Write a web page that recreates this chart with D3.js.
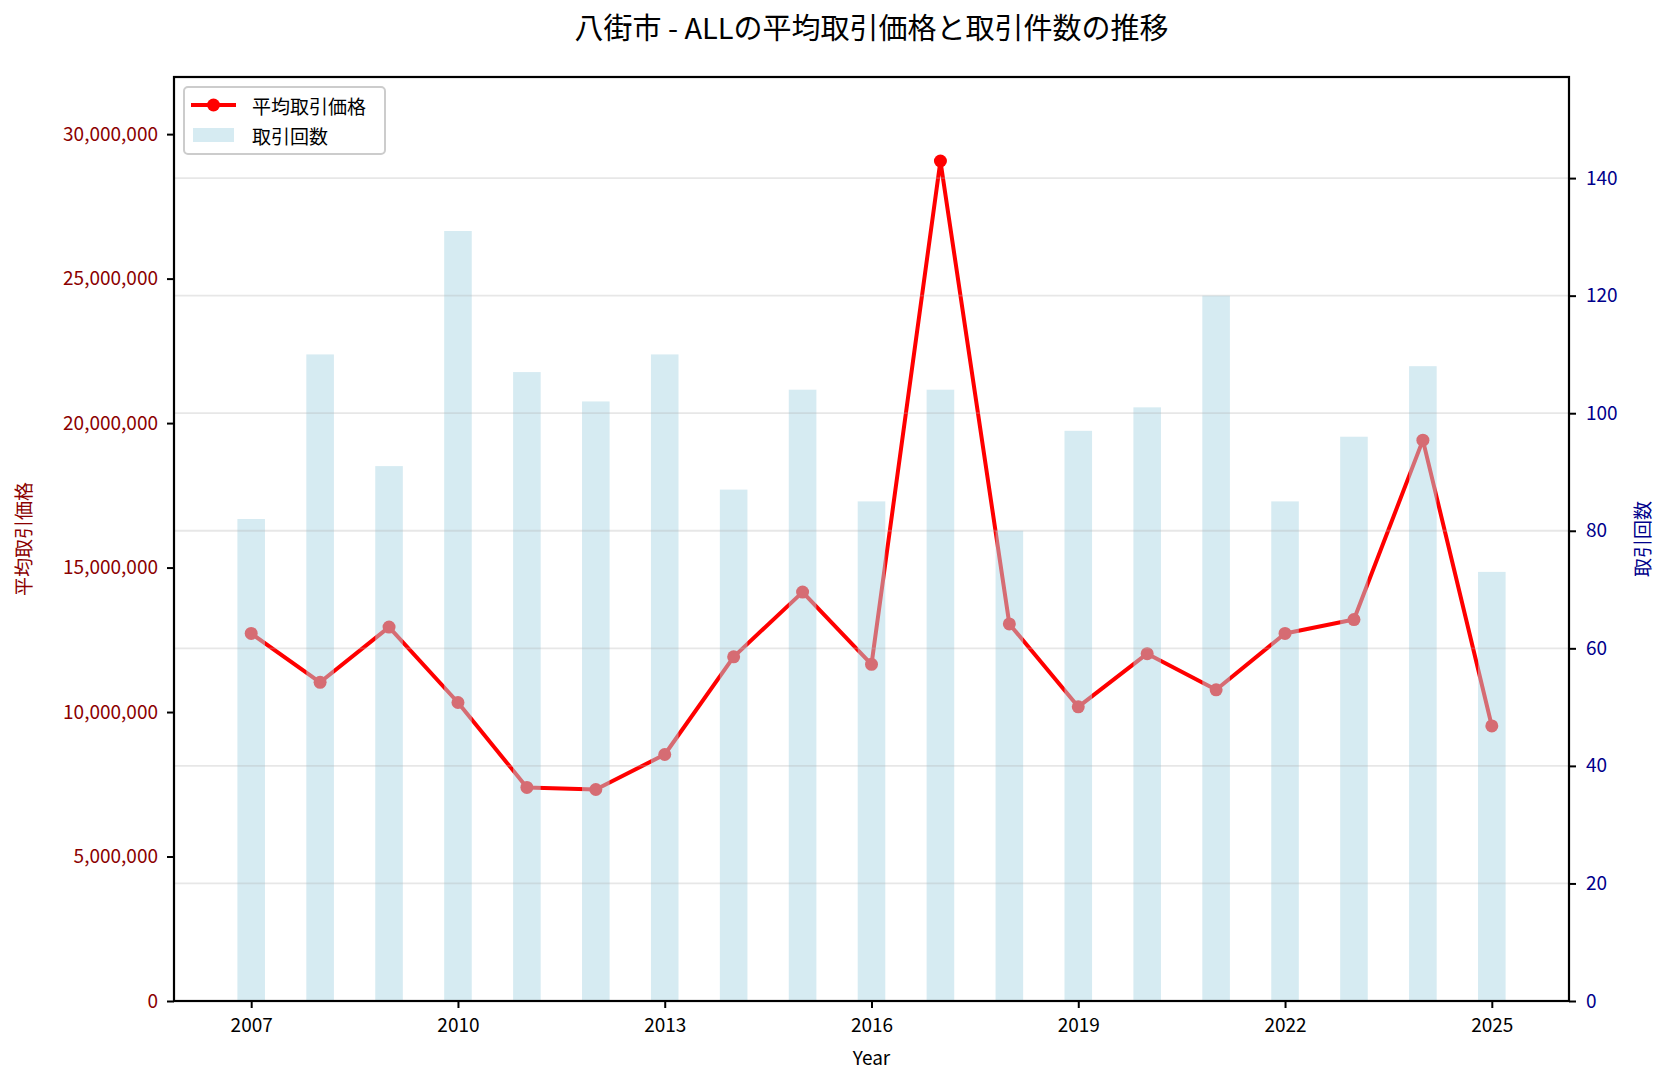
<!DOCTYPE html>
<html>
<head>
<meta charset="utf-8">
<script src="https://cdn.jsdelivr.net/npm/d3@7"></script>
<style>
  html, body { margin: 0; padding: 0; background: #fff; }
  svg { display: block; font-family: "Noto Sans CJK JP", "Noto Sans", sans-serif; }
</style>
</head>
<body>
<svg id="chart" width="1666" height="1079"></svg>
<script>
// ---- data ----
const years = [2007, 2008, 2009, 2010, 2011, 2012, 2013, 2014, 2015, 2016, 2017, 2018, 2019, 2020, 2021, 2022, 2023, 2024, 2025];
const avgPrice = [12720000, 11030000, 12940000, 10330000, 7390000, 7320000, 8530000, 11910000, 14150000, 11650000, 29070000, 13050000, 10180000, 12020000, 10770000, 12720000, 13200000, 19410000, 9520000];
const tradeCount = [82, 110, 91, 131, 107, 102, 110, 87, 104, 85, 104, 80, 97, 101, 120, 85, 96, 108, 73];
const xTickValues = [2007, 2010, 2013, 2016, 2019, 2022, 2025];
const leftTickValues = [0, 5000000, 10000000, 15000000, 20000000, 25000000, 30000000];
const rightTickValues = [0, 20, 40, 60, 80, 100, 120, 140];
const titleText = "八街市 - ALLの平均取引価格と取引件数の推移";
const leftLabel = "平均取引価格";
const rightLabel = "取引回数";
const xLabel = "Year";

// ---- layout ----
const L = 174, R = 1569, T = 77, B = 1001;
const svg = d3.select("#chart");

const barW = 0.4;
const xMin = d3.min(years) - barW / 2, xMax = d3.max(years) + barW / 2;
const xPad = (xMax - xMin) * 0.05;
const x = d3.scaleLinear().domain([xMin - xPad, xMax + xPad]).range([L, R]);
const yL = d3.scaleLinear().domain([0, d3.max(avgPrice) * 1.1]).range([B, T]);
const yR = d3.scaleLinear().domain([0, d3.max(tradeCount) * 1.2]).range([B, T]);

const fmt = d3.format(",");

// line (left axis)
const line = d3.line().x((d, i) => x(years[i])).y(d => yL(d));
svg.append("path").datum(avgPrice)
  .attr("d", line).attr("fill", "none")
  .attr("stroke", "#ff0000").attr("stroke-width", 4).attr("stroke-linejoin", "round");
svg.append("g").selectAll("circle").data(avgPrice).join("circle")
  .attr("cx", (d, i) => x(years[i])).attr("cy", d => yL(d)).attr("r", 6.5)
  .attr("fill", "#ff0000");

// bars (right axis, drawn above)
const bw = x(barW) - x(0);
svg.append("g").selectAll("rect").data(tradeCount).join("rect")
  .attr("x", (d, i) => x(years[i]) - bw / 2)
  .attr("y", d => yR(d))
  .attr("width", bw)
  .attr("height", d => B - yR(d))
  .attr("fill", "#add8e6").attr("fill-opacity", 0.5);

// grid (right axis ticks)
svg.append("g").selectAll("line").data(rightTickValues.filter(v => v > 0)).join("line")
  .attr("x1", L).attr("x2", R)
  .attr("y1", d => yR(d)).attr("y2", d => yR(d))
  .attr("stroke", "#b0b0b0").attr("stroke-opacity", 0.3).attr("stroke-width", 1.8);

// axes
const tickSize = 7, fs = 19;
const axX = d3.axisBottom(x).tickValues(xTickValues).tickFormat(d3.format("d")).tickSize(tickSize).tickPadding(11);
const gx = svg.append("g").attr("transform", `translate(0,${B})`).call(axX);
gx.select(".domain").remove();
gx.selectAll("line").attr("stroke", "#000").attr("stroke-width", 2);
gx.selectAll("text").attr("fill", "#000").attr("font-size", fs).attr("font-family", "Noto Sans CJK JP");

const axL = d3.axisLeft(yL).tickValues(leftTickValues).tickFormat(fmt).tickSize(tickSize).tickPadding(9);
const gl = svg.append("g").attr("transform", `translate(${L},0)`).call(axL);
gl.select(".domain").remove();
gl.selectAll("line").attr("stroke", "#000").attr("stroke-width", 2);
gl.selectAll("text").attr("fill", "#8b0000").attr("font-size", fs).attr("font-family", "Noto Sans CJK JP");

const axR = d3.axisRight(yR).tickValues(rightTickValues).tickSize(tickSize).tickPadding(10);
const gr = svg.append("g").attr("transform", `translate(${R},0)`).call(axR);
gr.select(".domain").remove();
gr.selectAll("line").attr("stroke", "#000").attr("stroke-width", 2);
gr.selectAll("text").attr("fill", "#00008b").attr("font-size", fs).attr("font-family", "Noto Sans CJK JP");

// frame
svg.append("rect").attr("x", L).attr("y", T).attr("width", R - L).attr("height", B - T)
  .attr("fill", "none").attr("stroke", "#000").attr("stroke-width", 2.2);

// labels
svg.append("text").attr("x", (L + R) / 2).attr("y", 26).attr("text-anchor", "middle")
  .attr("dominant-baseline", "central").attr("font-size", 29).attr("fill", "#000").text(titleText);
svg.append("text").attr("x", (L + R) / 2).attr("y", 1056).attr("text-anchor", "middle")
  .attr("dominant-baseline", "central").attr("font-size", fs).attr("fill", "#000").text(xLabel);
svg.append("text").attr("transform", `translate(22,${(T + B) / 2}) rotate(-90)`).attr("text-anchor", "middle")
  .attr("dominant-baseline", "central").attr("font-size", fs).attr("fill", "#8b0000").text(leftLabel);
svg.append("text").attr("transform", `translate(1641,${(T + B) / 2}) rotate(-90)`).attr("text-anchor", "middle")
  .attr("dominant-baseline", "central").attr("font-size", fs).attr("fill", "#00008b").text(rightLabel);

// legend
const lg = svg.append("g");
lg.append("rect").attr("x", 184).attr("y", 87).attr("width", 201).attr("height", 67).attr("rx", 4)
  .attr("fill", "#fff").attr("fill-opacity", 0.8).attr("stroke", "#cccccc").attr("stroke-width", 2);
lg.append("line").attr("x1", 191).attr("x2", 236).attr("y1", 105).attr("y2", 105)
  .attr("stroke", "#ff0000").attr("stroke-width", 4);
lg.append("circle").attr("cx", 213.5).attr("cy", 105).attr("r", 6.5).attr("fill", "#ff0000");
lg.append("rect").attr("x", 193).attr("y", 128).attr("width", 41).attr("height", 14)
  .attr("fill", "#add8e6").attr("fill-opacity", 0.5);
lg.append("text").attr("x", 252).attr("y", 105).attr("dominant-baseline", "central")
  .attr("font-size", fs).attr("fill", "#000").text(leftLabel);
lg.append("text").attr("x", 252).attr("y", 135).attr("dominant-baseline", "central")
  .attr("font-size", fs).attr("fill", "#000").text(rightLabel);
</script>
</body>
</html>
